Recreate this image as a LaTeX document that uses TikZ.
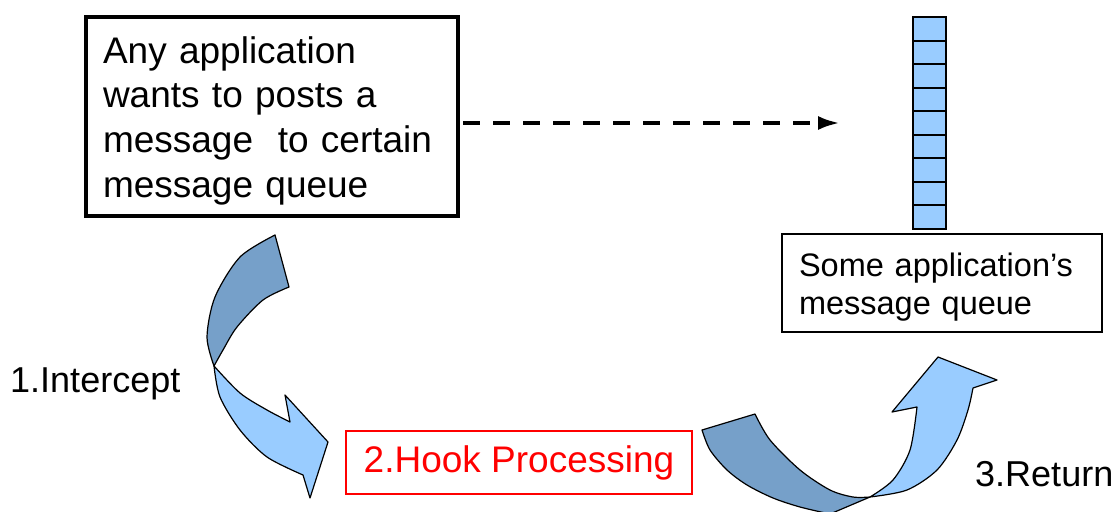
\documentclass[tikz,border=0pt]{standalone}
\usepackage{fontspec}
\setmainfont{Liberation Sans}
\usetikzlibrary{arrows.meta,positioning}
\definecolor{hookdark}{RGB}{118,160,201}
\definecolor{hooklight}{RGB}{153,204,255}
\definecolor{hookred}{RGB}{255,0,0}
\tikzset{
  sendbox/.style={
    rectangle,
    draw=black,
    line width=4pt,
    outer sep=0pt,
    inner xsep=17pt,
    inner ysep=0pt,
    align=left,
    text width=338pt,
    minimum width=372pt,
    minimum height=199pt,
    anchor=north west,
    font=\fontsize{37}{44.7}\selectfont
  },
  queuebox/.style={
    rectangle,
    draw=black,
    line width=2.5pt,
    outer sep=0pt,
    inner xsep=17pt,
    inner ysep=0pt,
    align=left,
    text width=286pt,
    minimum width=320pt,
    minimum height=98pt,
    anchor=north west,
    font=\fontsize{32.5}{38}\selectfont
  },
  hookbox/.style={
    rectangle,
    draw=hookred,
    text=hookred,
    line width=2.5pt,
    outer sep=0pt,
    inner sep=0pt,
    minimum width=346pt,
    minimum height=63pt,
    anchor=north west,
    font=\fontsize{37}{44}\selectfont
  },
  queuecell/.style={
    rectangle,
    draw=black,
    fill=hooklight,
    line width=2pt,
    outer sep=0pt,
    inner sep=0pt,
    minimum width=33pt,
    minimum height=23.56pt
  },
  steplabel/.style={
    anchor=base west,
    inner sep=0pt,
    font=\fontsize{36}{40}\selectfont
  },
  hookshape/.style={
    draw=black,
    line width=1.2pt,
    line join=round
  },
  postarrow/.style={
    -{Latex[length=22pt,width=14pt]},
    line width=4pt,
    dash pattern=on 17pt off 13pt
  }
}
\begin{document}
\begin{tikzpicture}[x=1pt,y=-1pt]
\useasboundingbox (0,0) rectangle (1115,511);
\clip (0,0) rectangle (1115,511);

\node[sendbox] (poster) at (86,17) {\rule{0pt}{35pt}Any application\\wants to posts a\\message\ \ to certain\\message queue};
\node[queuebox] (queue) at (782,234) {\rule{0pt}{31pt}Some application’s\\message queue};
\node[hookbox] (hook) at (346,431) {2.Hook Processing};
\node[steplabel] (intercept) at (10,392) {1.Intercept};
\node[steplabel] (return) at (975,486) {3.Return};

\node[queuecell, anchor=north] (cell1) at (929.5,17) {};
\foreach \i [remember=\i as \j (initially 1)] in {2,...,9}
  \node[queuecell, below=0pt of cell\j] (cell\i) {};

\coordinate (qin) at (840,123);
\draw[postarrow, shorten <=5pt] (poster.east |- qin) -- (qin);

\filldraw[hookshape, fill=hookdark]
  plot[smooth] coordinates {(275,235) (240,257) (215,297) (207,337) (214,366)}
  --plot[smooth] coordinates {(214,366) (223,350) (237,327) (263,300) (289,287)}
  -- cycle;
\filldraw[hookshape, fill=hooklight]
  plot[smooth] coordinates {(214,366) (240,393) (267,410) (290,422)}
  -- (285,395) -- (328,442) -- (310,498) -- (303,475)
  --plot[smooth] coordinates {(303,475) (267,457) (240,430) (220,397) (214,366)}
  -- cycle;

\filldraw[hookshape, fill=hookdark]
  plot[smooth] coordinates {(702,430) (710,450) (727,470) (747,485) (773,498) (800,507) (830,514)}
  -- (870,497)
  --plot[smooth] coordinates {(870,497) (853,497) (830,490) (800,470) (770,440) (755,414)}
  -- cycle;
\filldraw[hookshape, fill=hooklight]
  plot[smooth] coordinates {(870,497) (893,480) (910,450) (917,407)}
  -- (892,412) -- (938,357) -- (997,380) -- (973,388)
  --plot[smooth] coordinates {(973,388) (968,410) (957,440) (937,470) (907,490) (870,497)}
  -- cycle;
\end{tikzpicture}
\end{document}
